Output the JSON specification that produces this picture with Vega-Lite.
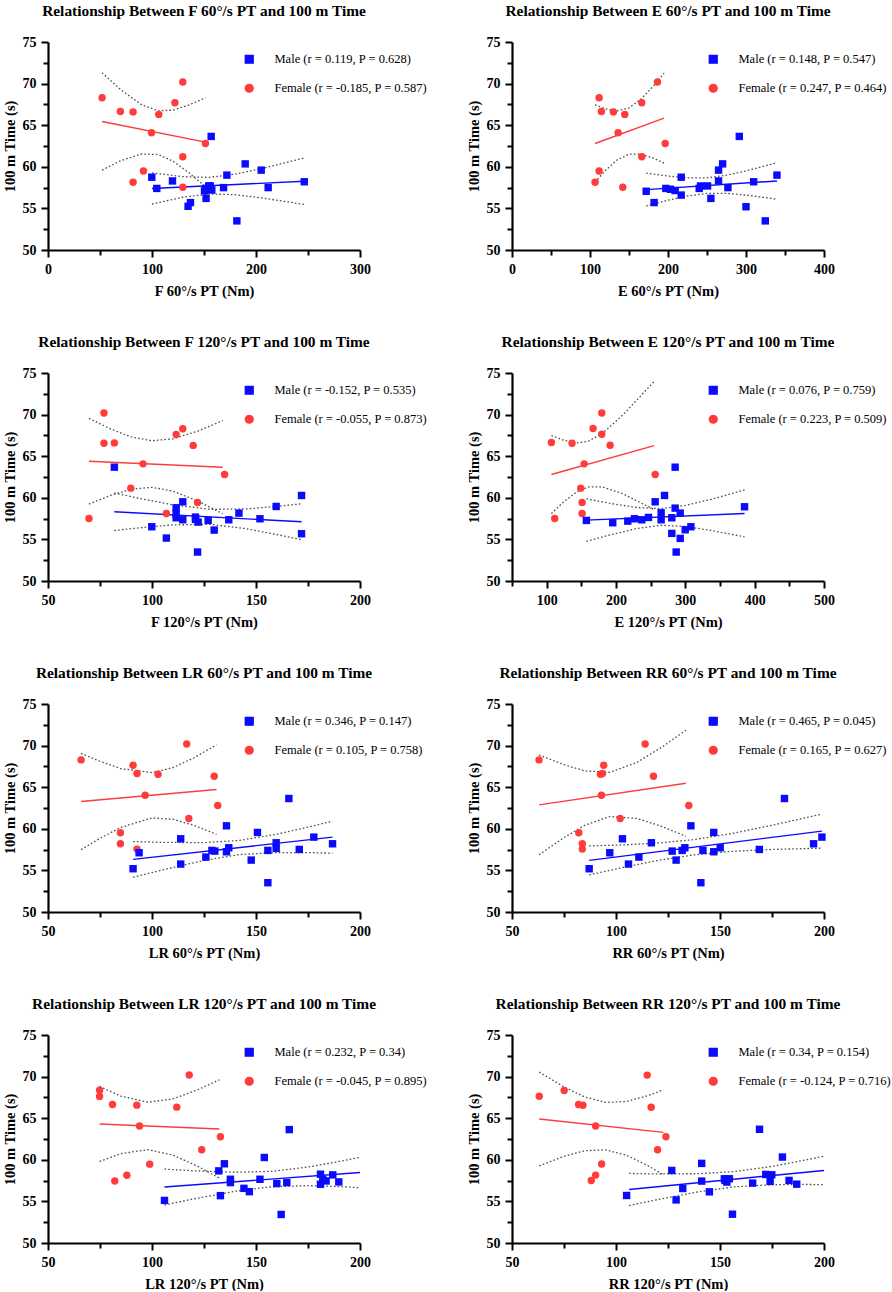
{
  "$schema": "https://vega.github.io/schema/vega-lite/v6.json",
  "background": "white",
  "padding": {"left": 2, "top": 3, "right": 0, "bottom": 0},
  "config": {
    "view": {"stroke": null},
    "title": {"font": "Liberation Serif", "fontSize": 15.4, "fontWeight": "bold", "color": "black", "anchor": "middle", "frame": "group", "offset": 16},
    "axis": {"grid": false, "domainColor": "black", "domainWidth": 2.2, "tickColor": "black", "tickWidth": 2, "labelFont": "Liberation Serif", "labelFontSize": 14, "labelFontWeight": "bold", "labelColor": "black", "titleFont": "Liberation Serif", "titleFontSize": 14.5, "titleFontWeight": "bold", "titleColor": "black", "labelOverlap": false, "labelFlush": false},
    "axisX": {"labelPadding": 5, "titlePadding": 8},
    "axisY": {"labelPadding": 5, "titlePadding": 5},
    "legend": {"orient": "none", "legendX": 195, "legendY": 11, "padding": 0, "rowPadding": 14, "symbolSize": 60, "labelOffset": 19, "labelFont": "Liberation Serif", "labelFontSize": 12.5, "labelColor": "black", "labelLimit": 0}
  },
  "data": {"values": [
    {"p":"F60","k":"pt","s":"Female","x":52,"y":68.3},{"p":"F60","k":"pt","s":"Female","x":69.6,"y":66.65},{"p":"F60","k":"pt","s":"Female","x":81.8,"y":66.6},{"p":"F60","k":"pt","s":"Female","x":106.5,"y":66.3},{"p":"F60","k":"pt","s":"Female","x":122,"y":67.7},{"p":"F60","k":"pt","s":"Female","x":129.6,"y":70.2},{"p":"F60","k":"pt","s":"Female","x":99.5,"y":64.1},{"p":"F60","k":"pt","s":"Female","x":151.4,"y":62.8},{"p":"F60","k":"pt","s":"Female","x":129.6,"y":61.2},{"p":"F60","k":"pt","s":"Female","x":91.8,"y":59.5},{"p":"F60","k":"pt","s":"Female","x":81.8,"y":58.15},{"p":"F60","k":"pt","s":"Female","x":129.6,"y":57.55},
    {"p":"F60","k":"pt","s":"Male","x":156.9,"y":63.65},{"p":"F60","k":"pt","s":"Male","x":99.8,"y":58.75},{"p":"F60","k":"pt","s":"Male","x":104.6,"y":57.4},{"p":"F60","k":"pt","s":"Male","x":119.7,"y":58.3},{"p":"F60","k":"pt","s":"Male","x":134.7,"y":55.25},{"p":"F60","k":"pt","s":"Male","x":137,"y":55.7},{"p":"F60","k":"pt","s":"Male","x":150.5,"y":57.1},{"p":"F60","k":"pt","s":"Male","x":151.5,"y":57.4},{"p":"F60","k":"pt","s":"Male","x":152,"y":56.2},{"p":"F60","k":"pt","s":"Male","x":154.5,"y":57.7},{"p":"F60","k":"pt","s":"Male","x":156,"y":57.7},{"p":"F60","k":"pt","s":"Male","x":156.5,"y":57.3},{"p":"F60","k":"pt","s":"Male","x":157.5,"y":57.2},{"p":"F60","k":"pt","s":"Male","x":168.8,"y":57.5},{"p":"F60","k":"pt","s":"Male","x":172,"y":59.0},{"p":"F60","k":"pt","s":"Male","x":189.6,"y":60.35},{"p":"F60","k":"pt","s":"Male","x":205,"y":59.6},{"p":"F60","k":"pt","s":"Male","x":211.7,"y":57.5},{"p":"F60","k":"pt","s":"Male","x":246.4,"y":58.2},{"p":"F60","k":"pt","s":"Male","x":181.6,"y":53.5},
    {"p":"F60","k":"fit","s":"Male","x":100,"y":57.4},{"p":"F60","k":"fit","s":"Male","x":246.4,"y":58.27},{"p":"F60","k":"fit","s":"Female","x":52,"y":65.45},{"p":"F60","k":"fit","s":"Female","x":151.4,"y":62.96},
    {"p":"F60","k":"ci","c":"MU","x":100,"y":59.27},{"p":"F60","k":"ci","c":"MU","x":130,"y":58.81},{"p":"F60","k":"ci","c":"MU","x":155,"y":58.73},{"p":"F60","k":"ci","c":"MU","x":180,"y":59.11},{"p":"F60","k":"ci","c":"MU","x":210,"y":59.92},{"p":"F60","k":"ci","c":"MU","x":246.4,"y":61.07},
    {"p":"F60","k":"ci","c":"ML","x":100,"y":55.53},{"p":"F60","k":"ci","c":"ML","x":130,"y":56.35},{"p":"F60","k":"ci","c":"ML","x":155,"y":56.73},{"p":"F60","k":"ci","c":"ML","x":180,"y":56.65},{"p":"F60","k":"ci","c":"ML","x":210,"y":56.18},{"p":"F60","k":"ci","c":"ML","x":246.4,"y":55.47},
    {"p":"F60","k":"ci","c":"FU","x":52,"y":71.3},{"p":"F60","k":"ci","c":"FU","x":70,"y":69.26},{"p":"F60","k":"ci","c":"FU","x":90,"y":67.46},{"p":"F60","k":"ci","c":"FU","x":106,"y":66.72},{"p":"F60","k":"ci","c":"FU","x":120,"y":66.81},{"p":"F60","k":"ci","c":"FU","x":135,"y":67.4},{"p":"F60","k":"ci","c":"FU","x":151.4,"y":68.3},
    {"p":"F60","k":"ci","c":"FL","x":52,"y":59.6},{"p":"F60","k":"ci","c":"FL","x":70,"y":60.74},{"p":"F60","k":"ci","c":"FL","x":90,"y":61.54},{"p":"F60","k":"ci","c":"FL","x":106,"y":61.48},{"p":"F60","k":"ci","c":"FL","x":120,"y":60.69},{"p":"F60","k":"ci","c":"FL","x":135,"y":59.34},{"p":"F60","k":"ci","c":"FL","x":151.4,"y":57.6},

    {"p":"E60","k":"pt","s":"Female","x":111.7,"y":68.3},{"p":"E60","k":"pt","s":"Female","x":114.6,"y":66.65},{"p":"E60","k":"pt","s":"Female","x":130,"y":66.6},{"p":"E60","k":"pt","s":"Female","x":144.6,"y":66.3},{"p":"E60","k":"pt","s":"Female","x":166.4,"y":67.7},{"p":"E60","k":"pt","s":"Female","x":186.5,"y":70.2},{"p":"E60","k":"pt","s":"Female","x":136,"y":64.1},{"p":"E60","k":"pt","s":"Female","x":196.4,"y":62.8},{"p":"E60","k":"pt","s":"Female","x":166.4,"y":61.2},{"p":"E60","k":"pt","s":"Female","x":111.7,"y":59.5},{"p":"E60","k":"pt","s":"Female","x":106.5,"y":58.15},{"p":"E60","k":"pt","s":"Female","x":142,"y":57.55},
    {"p":"E60","k":"pt","s":"Male","x":172,"y":57.06},{"p":"E60","k":"pt","s":"Male","x":182.2,"y":55.7},{"p":"E60","k":"pt","s":"Male","x":197.2,"y":57.4},{"p":"E60","k":"pt","s":"Male","x":203.2,"y":57.3},{"p":"E60","k":"pt","s":"Male","x":209.2,"y":57.15},{"p":"E60","k":"pt","s":"Male","x":216.9,"y":58.75},{"p":"E60","k":"pt","s":"Male","x":216.9,"y":56.6},{"p":"E60","k":"pt","s":"Male","x":240,"y":57.4},{"p":"E60","k":"pt","s":"Male","x":241.7,"y":57.7},{"p":"E60","k":"pt","s":"Male","x":250.7,"y":57.7},{"p":"E60","k":"pt","s":"Male","x":255,"y":56.2},{"p":"E60","k":"pt","s":"Male","x":264.8,"y":59.6},{"p":"E60","k":"pt","s":"Male","x":264.8,"y":58.3},{"p":"E60","k":"pt","s":"Male","x":270,"y":60.35},{"p":"E60","k":"pt","s":"Male","x":276.8,"y":57.5},{"p":"E60","k":"pt","s":"Male","x":291.4,"y":63.65},{"p":"E60","k":"pt","s":"Male","x":300,"y":55.2},{"p":"E60","k":"pt","s":"Male","x":309.8,"y":58.2},{"p":"E60","k":"pt","s":"Male","x":339.7,"y":59.0},{"p":"E60","k":"pt","s":"Male","x":324.7,"y":53.5},
    {"p":"E60","k":"fit","s":"Male","x":172,"y":57.26},{"p":"E60","k":"fit","s":"Male","x":339.7,"y":58.3},{"p":"E60","k":"fit","s":"Female","x":106.5,"y":62.8},{"p":"E60","k":"fit","s":"Female","x":195,"y":65.85},
    {"p":"E60","k":"ci","c":"MU","x":172,"y":59.23},{"p":"E60","k":"ci","c":"MU","x":200,"y":58.88},{"p":"E60","k":"ci","c":"MU","x":225,"y":58.68},{"p":"E60","k":"ci","c":"MU","x":250,"y":58.68},{"p":"E60","k":"ci","c":"MU","x":275,"y":58.99},{"p":"E60","k":"ci","c":"MU","x":300,"y":59.5},{"p":"E60","k":"ci","c":"MU","x":339.7,"y":60.49},
    {"p":"E60","k":"ci","c":"ML","x":172,"y":55.29},{"p":"E60","k":"ci","c":"ML","x":200,"y":55.98},{"p":"E60","k":"ci","c":"ML","x":225,"y":56.5},{"p":"E60","k":"ci","c":"ML","x":250,"y":56.8},{"p":"E60","k":"ci","c":"ML","x":275,"y":56.81},{"p":"E60","k":"ci","c":"ML","x":300,"y":56.6},{"p":"E60","k":"ci","c":"ML","x":339.7,"y":56.11},
    {"p":"E60","k":"ci","c":"FU","x":106.5,"y":67.45},{"p":"E60","k":"ci","c":"FU","x":120,"y":66.96},{"p":"E60","k":"ci","c":"FU","x":135,"y":66.72},{"p":"E60","k":"ci","c":"FU","x":150,"y":67.08},{"p":"E60","k":"ci","c":"FU","x":165,"y":68.1},{"p":"E60","k":"ci","c":"FU","x":180,"y":69.57},{"p":"E60","k":"ci","c":"FU","x":195,"y":71.25},
    {"p":"E60","k":"ci","c":"FL","x":106.5,"y":58.15},{"p":"E60","k":"ci","c":"FL","x":120,"y":59.58},{"p":"E60","k":"ci","c":"FL","x":135,"y":60.84},{"p":"E60","k":"ci","c":"FL","x":150,"y":61.52},{"p":"E60","k":"ci","c":"FL","x":165,"y":61.52},{"p":"E60","k":"ci","c":"FL","x":180,"y":61.09},{"p":"E60","k":"ci","c":"FL","x":195,"y":60.45},

    {"p":"F120","k":"pt","s":"Female","x":76.9,"y":70.2},{"p":"F120","k":"pt","s":"Female","x":76.9,"y":66.56},{"p":"F120","k":"pt","s":"Female","x":81.9,"y":66.6},{"p":"F120","k":"pt","s":"Female","x":95.7,"y":64.08},{"p":"F120","k":"pt","s":"Female","x":111.6,"y":67.6},{"p":"F120","k":"pt","s":"Female","x":114.8,"y":68.3},{"p":"F120","k":"pt","s":"Female","x":119.8,"y":66.3},{"p":"F120","k":"pt","s":"Female","x":134.9,"y":62.8},{"p":"F120","k":"pt","s":"Female","x":89.8,"y":61.16},{"p":"F120","k":"pt","s":"Female","x":121.9,"y":59.44},{"p":"F120","k":"pt","s":"Female","x":106.9,"y":58.12},{"p":"F120","k":"pt","s":"Female","x":69.7,"y":57.52},
    {"p":"F120","k":"pt","s":"Male","x":81.9,"y":63.68},{"p":"F120","k":"pt","s":"Male","x":99.9,"y":56.52},{"p":"F120","k":"pt","s":"Male","x":106.9,"y":55.16},{"p":"F120","k":"pt","s":"Male","x":111.6,"y":58.8},{"p":"F120","k":"pt","s":"Male","x":111.6,"y":58.12},{"p":"F120","k":"pt","s":"Male","x":111.6,"y":57.6},{"p":"F120","k":"pt","s":"Male","x":114.8,"y":59.52},{"p":"F120","k":"pt","s":"Male","x":114.8,"y":57.36},{"p":"F120","k":"pt","s":"Male","x":120.9,"y":57.68},{"p":"F120","k":"pt","s":"Male","x":120.9,"y":57.4},{"p":"F120","k":"pt","s":"Male","x":122.2,"y":57.08},{"p":"F120","k":"pt","s":"Male","x":121.9,"y":53.48},{"p":"F120","k":"pt","s":"Male","x":127,"y":57.28},{"p":"F120","k":"pt","s":"Male","x":129.9,"y":56.12},{"p":"F120","k":"pt","s":"Male","x":136.9,"y":57.36},{"p":"F120","k":"pt","s":"Male","x":141.8,"y":58.16},{"p":"F120","k":"pt","s":"Male","x":151.9,"y":57.48},{"p":"F120","k":"pt","s":"Male","x":159.7,"y":58.96},{"p":"F120","k":"pt","s":"Male","x":171.9,"y":60.28},{"p":"F120","k":"pt","s":"Male","x":171.9,"y":55.68},
    {"p":"F120","k":"fit","s":"Male","x":81.9,"y":58.32},{"p":"F120","k":"fit","s":"Male","x":171.9,"y":57.12},{"p":"F120","k":"fit","s":"Female","x":69.7,"y":64.4},{"p":"F120","k":"fit","s":"Female","x":134,"y":63.68},
    {"p":"F120","k":"ci","c":"MU","x":81.9,"y":60.57},{"p":"F120","k":"ci","c":"MU","x":95,"y":59.88},{"p":"F120","k":"ci","c":"MU","x":110,"y":59.16},{"p":"F120","k":"ci","c":"MU","x":128,"y":58.61},{"p":"F120","k":"ci","c":"MU","x":145,"y":58.66},{"p":"F120","k":"ci","c":"MU","x":160,"y":58.97},{"p":"F120","k":"ci","c":"MU","x":171.9,"y":59.28},
    {"p":"F120","k":"ci","c":"ML","x":81.9,"y":56.07},{"p":"F120","k":"ci","c":"ML","x":95,"y":56.42},{"p":"F120","k":"ci","c":"ML","x":110,"y":56.74},{"p":"F120","k":"ci","c":"ML","x":128,"y":56.81},{"p":"F120","k":"ci","c":"ML","x":145,"y":56.3},{"p":"F120","k":"ci","c":"ML","x":160,"y":55.59},{"p":"F120","k":"ci","c":"ML","x":171.9,"y":54.96},
    {"p":"F120","k":"ci","c":"FU","x":69.7,"y":69.55},{"p":"F120","k":"ci","c":"FU","x":80,"y":68.28},{"p":"F120","k":"ci","c":"FU","x":90,"y":67.31},{"p":"F120","k":"ci","c":"FU","x":100,"y":66.86},{"p":"F120","k":"ci","c":"FU","x":110,"y":67.09},{"p":"F120","k":"ci","c":"FU","x":122,"y":68.01},{"p":"F120","k":"ci","c":"FU","x":134,"y":69.28},
    {"p":"F120","k":"ci","c":"FL","x":69.7,"y":59.25},{"p":"F120","k":"ci","c":"FL","x":80,"y":60.28},{"p":"F120","k":"ci","c":"FL","x":90,"y":61.03},{"p":"F120","k":"ci","c":"FL","x":100,"y":61.26},{"p":"F120","k":"ci","c":"FL","x":110,"y":60.81},{"p":"F120","k":"ci","c":"FL","x":122,"y":59.61},{"p":"F120","k":"ci","c":"FL","x":134,"y":58.08},

    {"p":"E120","k":"pt","s":"Female","x":106.8,"y":66.64},{"p":"E120","k":"pt","s":"Female","x":136.6,"y":66.56},{"p":"E120","k":"pt","s":"Female","x":166.9,"y":68.32},{"p":"E120","k":"pt","s":"Female","x":179.5,"y":70.2},{"p":"E120","k":"pt","s":"Female","x":179.5,"y":67.64},{"p":"E120","k":"pt","s":"Female","x":191.5,"y":66.32},{"p":"E120","k":"pt","s":"Female","x":154,"y":64.08},{"p":"E120","k":"pt","s":"Female","x":256.5,"y":62.8},{"p":"E120","k":"pt","s":"Female","x":149.1,"y":61.16},{"p":"E120","k":"pt","s":"Female","x":151.1,"y":59.44},{"p":"E120","k":"pt","s":"Female","x":151.1,"y":58.12},{"p":"E120","k":"pt","s":"Female","x":111.6,"y":57.52},
    {"p":"E120","k":"pt","s":"Male","x":157.3,"y":57.28},{"p":"E120","k":"pt","s":"Male","x":195.3,"y":57.0},{"p":"E120","k":"pt","s":"Male","x":217,"y":57.2},{"p":"E120","k":"pt","s":"Male","x":226.6,"y":57.48},{"p":"E120","k":"pt","s":"Male","x":237.2,"y":57.36},{"p":"E120","k":"pt","s":"Male","x":246.8,"y":57.64},{"p":"E120","k":"pt","s":"Male","x":256.5,"y":59.52},{"p":"E120","k":"pt","s":"Male","x":265.1,"y":58.2},{"p":"E120","k":"pt","s":"Male","x":265.1,"y":57.36},{"p":"E120","k":"pt","s":"Male","x":270,"y":60.28},{"p":"E120","k":"pt","s":"Male","x":280.5,"y":57.6},{"p":"E120","k":"pt","s":"Male","x":280.5,"y":55.72},{"p":"E120","k":"pt","s":"Male","x":285.3,"y":63.68},{"p":"E120","k":"pt","s":"Male","x":285.3,"y":58.76},{"p":"E120","k":"pt","s":"Male","x":286.8,"y":53.48},{"p":"E120","k":"pt","s":"Male","x":292.6,"y":58.16},{"p":"E120","k":"pt","s":"Male","x":292.6,"y":55.12},{"p":"E120","k":"pt","s":"Male","x":299.8,"y":56.16},{"p":"E120","k":"pt","s":"Male","x":308,"y":56.52},{"p":"E120","k":"pt","s":"Male","x":385.4,"y":58.92},
    {"p":"E120","k":"fit","s":"Male","x":157.3,"y":57.32},{"p":"E120","k":"fit","s":"Male","x":385.4,"y":58.12},{"p":"E120","k":"fit","s":"Female","x":106.8,"y":62.8},{"p":"E120","k":"fit","s":"Female","x":255,"y":66.28},
    {"p":"E120","k":"ci","c":"MU","x":157.3,"y":59.88},{"p":"E120","k":"ci","c":"MU","x":190,"y":59.35},{"p":"E120","k":"ci","c":"MU","x":230,"y":58.83},{"p":"E120","k":"ci","c":"MU","x":265,"y":58.7},{"p":"E120","k":"ci","c":"MU","x":300,"y":59.08},{"p":"E120","k":"ci","c":"MU","x":340,"y":59.88},{"p":"E120","k":"ci","c":"MU","x":385.4,"y":60.94},
    {"p":"E120","k":"ci","c":"ML","x":157.3,"y":54.76},{"p":"E120","k":"ci","c":"ML","x":190,"y":55.51},{"p":"E120","k":"ci","c":"ML","x":230,"y":56.31},{"p":"E120","k":"ci","c":"ML","x":265,"y":56.7},{"p":"E120","k":"ci","c":"ML","x":300,"y":56.56},{"p":"E120","k":"ci","c":"ML","x":340,"y":56.04},{"p":"E120","k":"ci","c":"ML","x":385.4,"y":55.3},
    {"p":"E120","k":"ci","c":"FU","x":106.8,"y":67.49},{"p":"E120","k":"ci","c":"FU","x":125,"y":66.91},{"p":"E120","k":"ci","c":"FU","x":145,"y":66.61},{"p":"E120","k":"ci","c":"FU","x":160,"y":66.8},{"p":"E120","k":"ci","c":"FU","x":180,"y":67.72},{"p":"E120","k":"ci","c":"FU","x":210,"y":69.96},{"p":"E120","k":"ci","c":"FU","x":255,"y":73.98},
    {"p":"E120","k":"ci","c":"FL","x":106.8,"y":58.11},{"p":"E120","k":"ci","c":"FL","x":125,"y":59.55},{"p":"E120","k":"ci","c":"FL","x":145,"y":60.79},{"p":"E120","k":"ci","c":"FL","x":160,"y":61.3},{"p":"E120","k":"ci","c":"FL","x":180,"y":61.32},{"p":"E120","k":"ci","c":"FL","x":210,"y":60.48},{"p":"E120","k":"ci","c":"FL","x":255,"y":58.58},

    {"p":"LR60","k":"pt","s":"Female","x":65.9,"y":68.28},{"p":"LR60","k":"pt","s":"Female","x":90.9,"y":67.64},{"p":"LR60","k":"pt","s":"Female","x":92.8,"y":66.64},{"p":"LR60","k":"pt","s":"Female","x":102.9,"y":66.56},{"p":"LR60","k":"pt","s":"Female","x":116.7,"y":70.2},{"p":"LR60","k":"pt","s":"Female","x":129.9,"y":66.32},{"p":"LR60","k":"pt","s":"Female","x":96.7,"y":64.04},{"p":"LR60","k":"pt","s":"Female","x":131.6,"y":62.8},{"p":"LR60","k":"pt","s":"Female","x":117.7,"y":61.24},{"p":"LR60","k":"pt","s":"Female","x":84.8,"y":59.52},{"p":"LR60","k":"pt","s":"Female","x":84.8,"y":58.2},{"p":"LR60","k":"pt","s":"Female","x":92.8,"y":57.56},
    {"p":"LR60","k":"pt","s":"Male","x":90.9,"y":55.2},{"p":"LR60","k":"pt","s":"Male","x":93.8,"y":57.12},{"p":"LR60","k":"pt","s":"Male","x":113.8,"y":58.8},{"p":"LR60","k":"pt","s":"Male","x":113.8,"y":55.76},{"p":"LR60","k":"pt","s":"Male","x":125.9,"y":56.6},{"p":"LR60","k":"pt","s":"Male","x":128.8,"y":57.4},{"p":"LR60","k":"pt","s":"Male","x":130.2,"y":57.32},{"p":"LR60","k":"pt","s":"Male","x":135.8,"y":60.36},{"p":"LR60","k":"pt","s":"Male","x":135.8,"y":57.24},{"p":"LR60","k":"pt","s":"Male","x":136.9,"y":57.72},{"p":"LR60","k":"pt","s":"Male","x":147.7,"y":56.24},{"p":"LR60","k":"pt","s":"Male","x":150.7,"y":59.56},{"p":"LR60","k":"pt","s":"Male","x":155.7,"y":57.4},{"p":"LR60","k":"pt","s":"Male","x":155.7,"y":53.52},{"p":"LR60","k":"pt","s":"Male","x":159.7,"y":58.32},{"p":"LR60","k":"pt","s":"Male","x":159.7,"y":57.64},{"p":"LR60","k":"pt","s":"Male","x":165.8,"y":63.64},{"p":"LR60","k":"pt","s":"Male","x":170.8,"y":57.52},{"p":"LR60","k":"pt","s":"Male","x":177.8,"y":59.0},{"p":"LR60","k":"pt","s":"Male","x":186.8,"y":58.2},
    {"p":"LR60","k":"fit","s":"Male","x":90.9,"y":56.32},{"p":"LR60","k":"fit","s":"Male","x":186.8,"y":59.0},{"p":"LR60","k":"fit","s":"Female","x":65.9,"y":63.28},{"p":"LR60","k":"fit","s":"Female","x":131,"y":64.72},
    {"p":"LR60","k":"ci","c":"MU","x":90.9,"y":58.47},{"p":"LR60","k":"ci","c":"MU","x":105,"y":58.37},{"p":"LR60","k":"ci","c":"MU","x":125,"y":58.34},{"p":"LR60","k":"ci","c":"MU","x":142,"y":58.6},{"p":"LR60","k":"ci","c":"MU","x":160,"y":59.35},{"p":"LR60","k":"ci","c":"MU","x":175,"y":60.2},{"p":"LR60","k":"ci","c":"MU","x":186.8,"y":60.93},
    {"p":"LR60","k":"ci","c":"ML","x":90.9,"y":54.17},{"p":"LR60","k":"ci","c":"ML","x":105,"y":55.05},{"p":"LR60","k":"ci","c":"ML","x":125,"y":56.2},{"p":"LR60","k":"ci","c":"ML","x":142,"y":56.9},{"p":"LR60","k":"ci","c":"ML","x":160,"y":57.15},{"p":"LR60","k":"ci","c":"ML","x":175,"y":57.14},{"p":"LR60","k":"ci","c":"ML","x":186.8,"y":57.07},
    {"p":"LR60","k":"ci","c":"FU","x":65.9,"y":69.06},{"p":"LR60","k":"ci","c":"FU","x":75,"y":68.11},{"p":"LR60","k":"ci","c":"FU","x":85,"y":67.23},{"p":"LR60","k":"ci","c":"FU","x":100,"y":66.75},{"p":"LR60","k":"ci","c":"FU","x":110,"y":67.35},{"p":"LR60","k":"ci","c":"FU","x":120,"y":68.51},{"p":"LR60","k":"ci","c":"FU","x":131,"y":70.1},
    {"p":"LR60","k":"ci","c":"FL","x":65.9,"y":57.5},{"p":"LR60","k":"ci","c":"FL","x":75,"y":58.85},{"p":"LR60","k":"ci","c":"FL","x":85,"y":60.17},{"p":"LR60","k":"ci","c":"FL","x":100,"y":61.31},{"p":"LR60","k":"ci","c":"FL","x":110,"y":61.15},{"p":"LR60","k":"ci","c":"FL","x":120,"y":60.43},{"p":"LR60","k":"ci","c":"FL","x":131,"y":59.34},

    {"p":"RR60","k":"pt","s":"Female","x":63,"y":68.28},{"p":"RR60","k":"pt","s":"Female","x":92.5,"y":66.56},{"p":"RR60","k":"pt","s":"Female","x":93.5,"y":66.64},{"p":"RR60","k":"pt","s":"Female","x":94.1,"y":67.64},{"p":"RR60","k":"pt","s":"Female","x":114,"y":70.2},{"p":"RR60","k":"pt","s":"Female","x":118,"y":66.32},{"p":"RR60","k":"pt","s":"Female","x":93,"y":64.04},{"p":"RR60","k":"pt","s":"Female","x":135,"y":62.8},{"p":"RR60","k":"pt","s":"Female","x":102,"y":61.24},{"p":"RR60","k":"pt","s":"Female","x":82.1,"y":59.52},{"p":"RR60","k":"pt","s":"Female","x":83.8,"y":58.2},{"p":"RR60","k":"pt","s":"Female","x":83.8,"y":57.56},
    {"p":"RR60","k":"pt","s":"Male","x":87.1,"y":55.2},{"p":"RR60","k":"pt","s":"Male","x":97,"y":57.12},{"p":"RR60","k":"pt","s":"Male","x":103.1,"y":58.8},{"p":"RR60","k":"pt","s":"Male","x":106,"y":55.76},{"p":"RR60","k":"pt","s":"Male","x":111,"y":56.6},{"p":"RR60","k":"pt","s":"Male","x":117,"y":58.32},{"p":"RR60","k":"pt","s":"Male","x":127,"y":57.32},{"p":"RR60","k":"pt","s":"Male","x":128.9,"y":56.24},{"p":"RR60","k":"pt","s":"Male","x":131.8,"y":57.4},{"p":"RR60","k":"pt","s":"Male","x":133.1,"y":57.72},{"p":"RR60","k":"pt","s":"Male","x":136,"y":60.36},{"p":"RR60","k":"pt","s":"Male","x":141.8,"y":57.4},{"p":"RR60","k":"pt","s":"Male","x":140.8,"y":53.52},{"p":"RR60","k":"pt","s":"Male","x":147,"y":59.56},{"p":"RR60","k":"pt","s":"Male","x":147,"y":57.24},{"p":"RR60","k":"pt","s":"Male","x":150.1,"y":57.72},{"p":"RR60","k":"pt","s":"Male","x":168.9,"y":57.52},{"p":"RR60","k":"pt","s":"Male","x":181,"y":63.64},{"p":"RR60","k":"pt","s":"Male","x":195,"y":58.2},{"p":"RR60","k":"pt","s":"Male","x":199,"y":59.0},
    {"p":"RR60","k":"fit","s":"Male","x":87.1,"y":56.2},{"p":"RR60","k":"fit","s":"Male","x":199,"y":59.72},{"p":"RR60","k":"fit","s":"Female","x":63,"y":62.88},{"p":"RR60","k":"fit","s":"Female","x":133.6,"y":65.48},
    {"p":"RR60","k":"ci","c":"MU","x":87.1,"y":57.94},{"p":"RR60","k":"ci","c":"MU","x":105,"y":58.08},{"p":"RR60","k":"ci","c":"MU","x":120,"y":58.29},{"p":"RR60","k":"ci","c":"MU","x":137,"y":58.69},{"p":"RR60","k":"ci","c":"MU","x":155,"y":59.4},{"p":"RR60","k":"ci","c":"MU","x":175,"y":60.42},{"p":"RR60","k":"ci","c":"MU","x":199,"y":61.77},
    {"p":"RR60","k":"ci","c":"ML","x":87.1,"y":54.46},{"p":"RR60","k":"ci","c":"ML","x":105,"y":55.44},{"p":"RR60","k":"ci","c":"ML","x":120,"y":56.19},{"p":"RR60","k":"ci","c":"ML","x":137,"y":56.85},{"p":"RR60","k":"ci","c":"ML","x":155,"y":57.28},{"p":"RR60","k":"ci","c":"ML","x":175,"y":57.52},{"p":"RR60","k":"ci","c":"ML","x":199,"y":57.67},
    {"p":"RR60","k":"ci","c":"FU","x":63,"y":68.88},{"p":"RR60","k":"ci","c":"FU","x":75,"y":67.7},{"p":"RR60","k":"ci","c":"FU","x":85,"y":66.96},{"p":"RR60","k":"ci","c":"FU","x":97,"y":66.79},{"p":"RR60","k":"ci","c":"FU","x":110,"y":67.97},{"p":"RR60","k":"ci","c":"FU","x":122,"y":69.81},{"p":"RR60","k":"ci","c":"FU","x":133.6,"y":71.85},
    {"p":"RR60","k":"ci","c":"FL","x":63,"y":56.88},{"p":"RR60","k":"ci","c":"FL","x":75,"y":58.94},{"p":"RR60","k":"ci","c":"FL","x":85,"y":60.42},{"p":"RR60","k":"ci","c":"FL","x":97,"y":61.47},{"p":"RR60","k":"ci","c":"FL","x":110,"y":61.25},{"p":"RR60","k":"ci","c":"FL","x":122,"y":60.29},{"p":"RR60","k":"ci","c":"FL","x":133.6,"y":59.11},

    {"p":"LR120","k":"pt","s":"Female","x":74.8,"y":68.35},{"p":"LR120","k":"pt","s":"Female","x":74.8,"y":67.62},{"p":"LR120","k":"pt","s":"Female","x":81,"y":66.65},{"p":"LR120","k":"pt","s":"Female","x":92.7,"y":66.57},{"p":"LR120","k":"pt","s":"Female","x":111.9,"y":66.33},{"p":"LR120","k":"pt","s":"Female","x":117.9,"y":70.2},{"p":"LR120","k":"pt","s":"Female","x":94,"y":64.07},{"p":"LR120","k":"pt","s":"Female","x":132.9,"y":62.78},{"p":"LR120","k":"pt","s":"Female","x":123.9,"y":61.21},{"p":"LR120","k":"pt","s":"Female","x":98.9,"y":59.48},{"p":"LR120","k":"pt","s":"Female","x":87.9,"y":58.15},{"p":"LR120","k":"pt","s":"Female","x":82.1,"y":57.46},
    {"p":"LR120","k":"pt","s":"Male","x":106,"y":55.12},{"p":"LR120","k":"pt","s":"Male","x":132.1,"y":58.67},{"p":"LR120","k":"pt","s":"Male","x":132.9,"y":55.69},{"p":"LR120","k":"pt","s":"Male","x":134.8,"y":59.52},{"p":"LR120","k":"pt","s":"Male","x":137.7,"y":57.66},{"p":"LR120","k":"pt","s":"Male","x":137.7,"y":57.26},{"p":"LR120","k":"pt","s":"Male","x":144.2,"y":56.57},{"p":"LR120","k":"pt","s":"Male","x":146.8,"y":56.17},{"p":"LR120","k":"pt","s":"Male","x":151.9,"y":57.66},{"p":"LR120","k":"pt","s":"Male","x":154,"y":60.28},{"p":"LR120","k":"pt","s":"Male","x":160,"y":57.14},{"p":"LR120","k":"pt","s":"Male","x":162.1,"y":53.43},{"p":"LR120","k":"pt","s":"Male","x":164.8,"y":57.26},{"p":"LR120","k":"pt","s":"Male","x":166,"y":63.63},{"p":"LR120","k":"pt","s":"Male","x":181,"y":58.27},{"p":"LR120","k":"pt","s":"Male","x":181,"y":57.06},{"p":"LR120","k":"pt","s":"Male","x":182.1,"y":57.66},{"p":"LR120","k":"pt","s":"Male","x":183.7,"y":57.46},{"p":"LR120","k":"pt","s":"Male","x":186.9,"y":58.19},{"p":"LR120","k":"pt","s":"Male","x":189.8,"y":57.34},
    {"p":"LR120","k":"fit","s":"Male","x":106,"y":56.73},{"p":"LR120","k":"fit","s":"Male","x":200,"y":58.47},{"p":"LR120","k":"fit","s":"Female","x":74.8,"y":64.31},{"p":"LR120","k":"fit","s":"Female","x":132.4,"y":63.71},
    {"p":"LR120","k":"ci","c":"MU","x":106,"y":58.88},{"p":"LR120","k":"ci","c":"MU","x":120,"y":58.68},{"p":"LR120","k":"ci","c":"MU","x":140,"y":58.5},{"p":"LR120","k":"ci","c":"MU","x":158,"y":58.62},{"p":"LR120","k":"ci","c":"MU","x":175,"y":59.13},{"p":"LR120","k":"ci","c":"MU","x":190,"y":59.8},{"p":"LR120","k":"ci","c":"MU","x":200,"y":60.29},
    {"p":"LR120","k":"ci","c":"ML","x":106,"y":54.58},{"p":"LR120","k":"ci","c":"ML","x":120,"y":55.3},{"p":"LR120","k":"ci","c":"ML","x":140,"y":56.22},{"p":"LR120","k":"ci","c":"ML","x":158,"y":56.78},{"p":"LR120","k":"ci","c":"ML","x":175,"y":56.89},{"p":"LR120","k":"ci","c":"ML","x":190,"y":56.78},{"p":"LR120","k":"ci","c":"ML","x":200,"y":56.65},
    {"p":"LR120","k":"ci","c":"FU","x":74.8,"y":68.82},{"p":"LR120","k":"ci","c":"FU","x":85,"y":67.66},{"p":"LR120","k":"ci","c":"FU","x":98,"y":66.92},{"p":"LR120","k":"ci","c":"FU","x":110,"y":67.31},{"p":"LR120","k":"ci","c":"FU","x":122,"y":68.42},{"p":"LR120","k":"ci","c":"FU","x":132.4,"y":69.62},
    {"p":"LR120","k":"ci","c":"FL","x":74.8,"y":59.8},{"p":"LR120","k":"ci","c":"FL","x":85,"y":60.74},{"p":"LR120","k":"ci","c":"FL","x":98,"y":61.22},{"p":"LR120","k":"ci","c":"FL","x":110,"y":60.57},{"p":"LR120","k":"ci","c":"FL","x":122,"y":59.22},{"p":"LR120","k":"ci","c":"FL","x":132.4,"y":57.8},

    {"p":"RR120","k":"pt","s":"Female","x":63.1,"y":67.64},{"p":"RR120","k":"pt","s":"Female","x":75.1,"y":68.33},{"p":"RR120","k":"pt","s":"Female","x":82,"y":66.64},{"p":"RR120","k":"pt","s":"Female","x":84.1,"y":66.56},{"p":"RR120","k":"pt","s":"Female","x":90.2,"y":64.07},{"p":"RR120","k":"pt","s":"Female","x":115,"y":70.18},{"p":"RR120","k":"pt","s":"Female","x":116.9,"y":66.32},{"p":"RR120","k":"pt","s":"Female","x":124,"y":62.78},{"p":"RR120","k":"pt","s":"Female","x":120,"y":61.21},{"p":"RR120","k":"pt","s":"Female","x":93.1,"y":59.49},{"p":"RR120","k":"pt","s":"Female","x":90.2,"y":58.16},{"p":"RR120","k":"pt","s":"Female","x":88.1,"y":57.52},
    {"p":"RR120","k":"pt","s":"Male","x":105.1,"y":55.71},{"p":"RR120","k":"pt","s":"Male","x":126.8,"y":58.72},{"p":"RR120","k":"pt","s":"Male","x":128.9,"y":55.18},{"p":"RR120","k":"pt","s":"Male","x":132.1,"y":56.55},{"p":"RR120","k":"pt","s":"Male","x":141.2,"y":59.57},{"p":"RR120","k":"pt","s":"Male","x":141.2,"y":57.44},{"p":"RR120","k":"pt","s":"Male","x":144.9,"y":56.15},{"p":"RR120","k":"pt","s":"Male","x":152.1,"y":57.72},{"p":"RR120","k":"pt","s":"Male","x":152.4,"y":57.52},{"p":"RR120","k":"pt","s":"Male","x":153.3,"y":57.32},{"p":"RR120","k":"pt","s":"Male","x":154.5,"y":57.72},{"p":"RR120","k":"pt","s":"Male","x":156,"y":53.46},{"p":"RR120","k":"pt","s":"Male","x":165.7,"y":57.2},{"p":"RR120","k":"pt","s":"Male","x":169,"y":63.67},{"p":"RR120","k":"pt","s":"Male","x":172,"y":58.24},{"p":"RR120","k":"pt","s":"Male","x":174.1,"y":57.4},{"p":"RR120","k":"pt","s":"Male","x":174.9,"y":58.2},{"p":"RR120","k":"pt","s":"Male","x":180,"y":60.33},{"p":"RR120","k":"pt","s":"Male","x":183.2,"y":57.52},{"p":"RR120","k":"pt","s":"Male","x":186.9,"y":57.07},
    {"p":"RR120","k":"fit","s":"Male","x":106.3,"y":56.43},{"p":"RR120","k":"fit","s":"Male","x":200,"y":58.72},{"p":"RR120","k":"fit","s":"Female","x":63.1,"y":64.91},{"p":"RR120","k":"fit","s":"Female","x":122.8,"y":63.3},
    {"p":"RR120","k":"ci","c":"MU","x":106.3,"y":58.36},{"p":"RR120","k":"ci","c":"MU","x":120,"y":58.3},{"p":"RR120","k":"ci","c":"MU","x":140,"y":58.33},{"p":"RR120","k":"ci","c":"MU","x":157,"y":58.59},{"p":"RR120","k":"ci","c":"MU","x":175,"y":59.21},{"p":"RR120","k":"ci","c":"MU","x":190,"y":59.92},{"p":"RR120","k":"ci","c":"MU","x":200,"y":60.43},
    {"p":"RR120","k":"ci","c":"ML","x":106.3,"y":54.5},{"p":"RR120","k":"ci","c":"ML","x":120,"y":55.22},{"p":"RR120","k":"ci","c":"ML","x":140,"y":56.17},{"p":"RR120","k":"ci","c":"ML","x":157,"y":56.75},{"p":"RR120","k":"ci","c":"ML","x":175,"y":57.01},{"p":"RR120","k":"ci","c":"ML","x":190,"y":57.04},{"p":"RR120","k":"ci","c":"ML","x":200,"y":57.01},
    {"p":"RR120","k":"ci","c":"FU","x":63.1,"y":70.55},{"p":"RR120","k":"ci","c":"FU","x":75,"y":68.76},{"p":"RR120","k":"ci","c":"FU","x":85,"y":67.55},{"p":"RR120","k":"ci","c":"FU","x":95,"y":66.9},{"p":"RR120","k":"ci","c":"FU","x":105,"y":67.01},{"p":"RR120","k":"ci","c":"FU","x":115,"y":67.68},{"p":"RR120","k":"ci","c":"FU","x":122.8,"y":68.41},
    {"p":"RR120","k":"ci","c":"FL","x":63.1,"y":59.27},{"p":"RR120","k":"ci","c":"FL","x":75,"y":60.42},{"p":"RR120","k":"ci","c":"FL","x":85,"y":61.09},{"p":"RR120","k":"ci","c":"FL","x":95,"y":61.2},{"p":"RR120","k":"ci","c":"FL","x":105,"y":60.55},{"p":"RR120","k":"ci","c":"FL","x":115,"y":59.34},{"p":"RR120","k":"ci","c":"FL","x":122.8,"y":58.19}
  ]},
  "columns": 2,
  "bounds": "flush",
  "spacing": {"row": 123, "column": 152},
  "resolve": {"scale": {"color": "independent", "shape": "independent"}, "legend": {"color": "independent", "shape": "independent"}},
  "concat": [
    {"width": 312, "height": 208, "title": "Relationship Between F 60°/s PT and 100 m Time",
     "transform": [{"filter": "datum.p == 'F60'"}],
     "encoding": {
       "x": {"field": "x", "type": "quantitative", "scale": {"domain": [0, 300], "nice": false, "zero": false}, "axis": {"title": "F 60°/s PT (Nm)", "values": [0, 50, 100, 150, 200, 250, 300], "labelExpr": "datum.value % 100 == 0 ? datum.label : ''", "tickSize": {"condition": {"test": "datum.value % 100 == 0", "value": 7}, "value": 5}}},
       "y": {"field": "y", "type": "quantitative", "scale": {"domain": [50, 75], "nice": false, "zero": false}, "axis": {"title": "100 m Time (s)", "values": [50, 52.5, 55, 57.5, 60, 62.5, 65, 67.5, 70, 72.5, 75], "labelExpr": "datum.value % 5 == 0 ? datum.label : ''", "tickSize": {"condition": {"test": "datum.value % 5 == 0", "value": 7}, "value": 5}}}
     },
     "layer": [
       {"transform": [{"filter": "datum.k == 'ci'"}], "mark": {"type": "line", "color": "#4d4d4d", "strokeWidth": 1.3, "strokeDash": [1.6, 2.2]}, "encoding": {"detail": {"field": "c", "type": "nominal"}}},
       {"transform": [{"filter": "datum.k == 'fit'"}], "mark": {"type": "line", "strokeWidth": 1.4}, "encoding": {"color": {"field": "s", "type": "nominal", "scale": {"domain": ["Male", "Female"], "range": ["#0a0aff", "#ff3b3b"]}}}},
       {"transform": [{"filter": "datum.k == 'pt'"}], "mark": {"type": "point", "filled": true, "opacity": 1, "size": 55},
        "encoding": {
          "shape": {"field": "s", "type": "nominal", "scale": {"domain": ["Male", "Female"], "range": ["square", "circle"]}},
          "color": {"field": "s", "type": "nominal", "scale": {"domain": ["Male", "Female"], "range": ["#0a0aff", "#ff3b3b"]},
            "legend": {"title": null, "labelExpr": "datum.value == 'Male' ? 'Male (r = 0.119, P = 0.628)' : 'Female  (r = -0.185, P = 0.587)'"}}
        }}
     ]},
    {"width": 312, "height": 208, "title": "Relationship Between E 60°/s PT and 100 m Time",
     "transform": [{"filter": "datum.p == 'E60'"}],
     "encoding": {
       "x": {"field": "x", "type": "quantitative", "scale": {"domain": [0, 400], "nice": false, "zero": false}, "axis": {"title": "E 60°/s PT (Nm)", "values": [0, 50, 100, 150, 200, 250, 300, 350, 400], "labelExpr": "datum.value % 100 == 0 ? datum.label : ''", "tickSize": {"condition": {"test": "datum.value % 100 == 0", "value": 7}, "value": 5}}},
       "y": {"field": "y", "type": "quantitative", "scale": {"domain": [50, 75], "nice": false, "zero": false}, "axis": {"title": "100 m Time (s)", "values": [50, 52.5, 55, 57.5, 60, 62.5, 65, 67.5, 70, 72.5, 75], "labelExpr": "datum.value % 5 == 0 ? datum.label : ''", "tickSize": {"condition": {"test": "datum.value % 5 == 0", "value": 7}, "value": 5}}}
     },
     "layer": [
       {"transform": [{"filter": "datum.k == 'ci'"}], "mark": {"type": "line", "color": "#4d4d4d", "strokeWidth": 1.3, "strokeDash": [1.6, 2.2]}, "encoding": {"detail": {"field": "c", "type": "nominal"}}},
       {"transform": [{"filter": "datum.k == 'fit'"}], "mark": {"type": "line", "strokeWidth": 1.4}, "encoding": {"color": {"field": "s", "type": "nominal", "scale": {"domain": ["Male", "Female"], "range": ["#0a0aff", "#ff3b3b"]}}}},
       {"transform": [{"filter": "datum.k == 'pt'"}], "mark": {"type": "point", "filled": true, "opacity": 1, "size": 55},
        "encoding": {
          "shape": {"field": "s", "type": "nominal", "scale": {"domain": ["Male", "Female"], "range": ["square", "circle"]}},
          "color": {"field": "s", "type": "nominal", "scale": {"domain": ["Male", "Female"], "range": ["#0a0aff", "#ff3b3b"]},
            "legend": {"title": null, "labelExpr": "datum.value == 'Male' ? 'Male (r = 0.148, P = 0.547)' : 'Female  (r = 0.247, P = 0.464)'"}}
        }}
     ]},
    {"width": 312, "height": 208, "title": "Relationship Between F 120°/s PT and 100 m Time",
     "transform": [{"filter": "datum.p == 'F120'"}],
     "encoding": {
       "x": {"field": "x", "type": "quantitative", "scale": {"domain": [50, 200], "nice": false, "zero": false}, "axis": {"title": "F 120°/s PT (Nm)", "values": [50, 75, 100, 125, 150, 175, 200], "labelExpr": "datum.value % 50 == 0 ? datum.label : ''", "tickSize": {"condition": {"test": "datum.value % 50 == 0", "value": 7}, "value": 5}}},
       "y": {"field": "y", "type": "quantitative", "scale": {"domain": [50, 75], "nice": false, "zero": false}, "axis": {"title": "100 m Time (s)", "values": [50, 52.5, 55, 57.5, 60, 62.5, 65, 67.5, 70, 72.5, 75], "labelExpr": "datum.value % 5 == 0 ? datum.label : ''", "tickSize": {"condition": {"test": "datum.value % 5 == 0", "value": 7}, "value": 5}}}
     },
     "layer": [
       {"transform": [{"filter": "datum.k == 'ci'"}], "mark": {"type": "line", "color": "#4d4d4d", "strokeWidth": 1.3, "strokeDash": [1.6, 2.2]}, "encoding": {"detail": {"field": "c", "type": "nominal"}}},
       {"transform": [{"filter": "datum.k == 'fit'"}], "mark": {"type": "line", "strokeWidth": 1.4}, "encoding": {"color": {"field": "s", "type": "nominal", "scale": {"domain": ["Male", "Female"], "range": ["#0a0aff", "#ff3b3b"]}}}},
       {"transform": [{"filter": "datum.k == 'pt'"}], "mark": {"type": "point", "filled": true, "opacity": 1, "size": 55},
        "encoding": {
          "shape": {"field": "s", "type": "nominal", "scale": {"domain": ["Male", "Female"], "range": ["square", "circle"]}},
          "color": {"field": "s", "type": "nominal", "scale": {"domain": ["Male", "Female"], "range": ["#0a0aff", "#ff3b3b"]},
            "legend": {"title": null, "labelExpr": "datum.value == 'Male' ? 'Male (r = -0.152, P = 0.535)' : 'Female  (r = -0.055, P = 0.873)'"}}
        }}
     ]},
    {"width": 312, "height": 208, "title": "Relationship Between E 120°/s PT and 100 m Time",
     "transform": [{"filter": "datum.p == 'E120'"}],
     "encoding": {
       "x": {"field": "x", "type": "quantitative", "scale": {"domain": [50, 500], "nice": false, "zero": false}, "axis": {"title": "E 120°/s PT (Nm)", "values": [50, 100, 150, 200, 250, 300, 350, 400, 450, 500], "labelExpr": "datum.value % 100 == 0 ? datum.label : ''", "tickSize": {"condition": {"test": "datum.value % 100 == 0", "value": 7}, "value": 5}}},
       "y": {"field": "y", "type": "quantitative", "scale": {"domain": [50, 75], "nice": false, "zero": false}, "axis": {"title": "100 m Time (s)", "values": [50, 52.5, 55, 57.5, 60, 62.5, 65, 67.5, 70, 72.5, 75], "labelExpr": "datum.value % 5 == 0 ? datum.label : ''", "tickSize": {"condition": {"test": "datum.value % 5 == 0", "value": 7}, "value": 5}}}
     },
     "layer": [
       {"transform": [{"filter": "datum.k == 'ci'"}], "mark": {"type": "line", "color": "#4d4d4d", "strokeWidth": 1.3, "strokeDash": [1.6, 2.2]}, "encoding": {"detail": {"field": "c", "type": "nominal"}}},
       {"transform": [{"filter": "datum.k == 'fit'"}], "mark": {"type": "line", "strokeWidth": 1.4}, "encoding": {"color": {"field": "s", "type": "nominal", "scale": {"domain": ["Male", "Female"], "range": ["#0a0aff", "#ff3b3b"]}}}},
       {"transform": [{"filter": "datum.k == 'pt'"}], "mark": {"type": "point", "filled": true, "opacity": 1, "size": 55},
        "encoding": {
          "shape": {"field": "s", "type": "nominal", "scale": {"domain": ["Male", "Female"], "range": ["square", "circle"]}},
          "color": {"field": "s", "type": "nominal", "scale": {"domain": ["Male", "Female"], "range": ["#0a0aff", "#ff3b3b"]},
            "legend": {"title": null, "labelExpr": "datum.value == 'Male' ? 'Male (r = 0.076, P = 0.759)' : 'Female  (r = 0.223, P = 0.509)'"}}
        }}
     ]},
    {"width": 312, "height": 208, "title": "Relationship Between LR 60°/s PT and 100 m Time",
     "transform": [{"filter": "datum.p == 'LR60'"}],
     "encoding": {
       "x": {"field": "x", "type": "quantitative", "scale": {"domain": [50, 200], "nice": false, "zero": false}, "axis": {"title": "LR 60°/s PT (Nm)", "values": [50, 75, 100, 125, 150, 175, 200], "labelExpr": "datum.value % 50 == 0 ? datum.label : ''", "tickSize": {"condition": {"test": "datum.value % 50 == 0", "value": 7}, "value": 5}}},
       "y": {"field": "y", "type": "quantitative", "scale": {"domain": [50, 75], "nice": false, "zero": false}, "axis": {"title": "100 m Time (s)", "values": [50, 52.5, 55, 57.5, 60, 62.5, 65, 67.5, 70, 72.5, 75], "labelExpr": "datum.value % 5 == 0 ? datum.label : ''", "tickSize": {"condition": {"test": "datum.value % 5 == 0", "value": 7}, "value": 5}}}
     },
     "layer": [
       {"transform": [{"filter": "datum.k == 'ci'"}], "mark": {"type": "line", "color": "#4d4d4d", "strokeWidth": 1.3, "strokeDash": [1.6, 2.2]}, "encoding": {"detail": {"field": "c", "type": "nominal"}}},
       {"transform": [{"filter": "datum.k == 'fit'"}], "mark": {"type": "line", "strokeWidth": 1.4}, "encoding": {"color": {"field": "s", "type": "nominal", "scale": {"domain": ["Male", "Female"], "range": ["#0a0aff", "#ff3b3b"]}}}},
       {"transform": [{"filter": "datum.k == 'pt'"}], "mark": {"type": "point", "filled": true, "opacity": 1, "size": 55},
        "encoding": {
          "shape": {"field": "s", "type": "nominal", "scale": {"domain": ["Male", "Female"], "range": ["square", "circle"]}},
          "color": {"field": "s", "type": "nominal", "scale": {"domain": ["Male", "Female"], "range": ["#0a0aff", "#ff3b3b"]},
            "legend": {"title": null, "labelExpr": "datum.value == 'Male' ? 'Male (r = 0.346, P = 0.147)' : 'Female  (r = 0.105, P = 0.758)'"}}
        }}
     ]},
    {"width": 312, "height": 208, "title": "Relationship Between RR 60°/s PT and 100 m Time",
     "transform": [{"filter": "datum.p == 'RR60'"}],
     "encoding": {
       "x": {"field": "x", "type": "quantitative", "scale": {"domain": [50, 200], "nice": false, "zero": false}, "axis": {"title": "RR 60°/s PT (Nm)", "values": [50, 75, 100, 125, 150, 175, 200], "labelExpr": "datum.value % 50 == 0 ? datum.label : ''", "tickSize": {"condition": {"test": "datum.value % 50 == 0", "value": 7}, "value": 5}}},
       "y": {"field": "y", "type": "quantitative", "scale": {"domain": [50, 75], "nice": false, "zero": false}, "axis": {"title": "100 m Time (s)", "values": [50, 52.5, 55, 57.5, 60, 62.5, 65, 67.5, 70, 72.5, 75], "labelExpr": "datum.value % 5 == 0 ? datum.label : ''", "tickSize": {"condition": {"test": "datum.value % 5 == 0", "value": 7}, "value": 5}}}
     },
     "layer": [
       {"transform": [{"filter": "datum.k == 'ci'"}], "mark": {"type": "line", "color": "#4d4d4d", "strokeWidth": 1.3, "strokeDash": [1.6, 2.2]}, "encoding": {"detail": {"field": "c", "type": "nominal"}}},
       {"transform": [{"filter": "datum.k == 'fit'"}], "mark": {"type": "line", "strokeWidth": 1.4}, "encoding": {"color": {"field": "s", "type": "nominal", "scale": {"domain": ["Male", "Female"], "range": ["#0a0aff", "#ff3b3b"]}}}},
       {"transform": [{"filter": "datum.k == 'pt'"}], "mark": {"type": "point", "filled": true, "opacity": 1, "size": 55},
        "encoding": {
          "shape": {"field": "s", "type": "nominal", "scale": {"domain": ["Male", "Female"], "range": ["square", "circle"]}},
          "color": {"field": "s", "type": "nominal", "scale": {"domain": ["Male", "Female"], "range": ["#0a0aff", "#ff3b3b"]},
            "legend": {"title": null, "labelExpr": "datum.value == 'Male' ? 'Male (r = 0.465, P = 0.045)' : 'Female  (r = 0.165, P = 0.627)'"}}
        }}
     ]},
    {"width": 312, "height": 208, "title": "Relationship Between LR 120°/s PT and 100 m Time",
     "transform": [{"filter": "datum.p == 'LR120'"}],
     "encoding": {
       "x": {"field": "x", "type": "quantitative", "scale": {"domain": [50, 200], "nice": false, "zero": false}, "axis": {"title": "LR 120°/s PT (Nm)", "values": [50, 75, 100, 125, 150, 175, 200], "labelExpr": "datum.value % 50 == 0 ? datum.label : ''", "tickSize": {"condition": {"test": "datum.value % 50 == 0", "value": 7}, "value": 5}}},
       "y": {"field": "y", "type": "quantitative", "scale": {"domain": [50, 75], "nice": false, "zero": false}, "axis": {"title": "100 m Time (s)", "values": [50, 52.5, 55, 57.5, 60, 62.5, 65, 67.5, 70, 72.5, 75], "labelExpr": "datum.value % 5 == 0 ? datum.label : ''", "tickSize": {"condition": {"test": "datum.value % 5 == 0", "value": 7}, "value": 5}}}
     },
     "layer": [
       {"transform": [{"filter": "datum.k == 'ci'"}], "mark": {"type": "line", "color": "#4d4d4d", "strokeWidth": 1.3, "strokeDash": [1.6, 2.2]}, "encoding": {"detail": {"field": "c", "type": "nominal"}}},
       {"transform": [{"filter": "datum.k == 'fit'"}], "mark": {"type": "line", "strokeWidth": 1.4}, "encoding": {"color": {"field": "s", "type": "nominal", "scale": {"domain": ["Male", "Female"], "range": ["#0a0aff", "#ff3b3b"]}}}},
       {"transform": [{"filter": "datum.k == 'pt'"}], "mark": {"type": "point", "filled": true, "opacity": 1, "size": 55},
        "encoding": {
          "shape": {"field": "s", "type": "nominal", "scale": {"domain": ["Male", "Female"], "range": ["square", "circle"]}},
          "color": {"field": "s", "type": "nominal", "scale": {"domain": ["Male", "Female"], "range": ["#0a0aff", "#ff3b3b"]},
            "legend": {"title": null, "labelExpr": "datum.value == 'Male' ? 'Male (r = 0.232, P = 0.34)' : 'Female  (r = -0.045, P = 0.895)'"}}
        }}
     ]},
    {"width": 312, "height": 208, "title": "Relationship Between RR 120°/s PT and 100 m Time",
     "transform": [{"filter": "datum.p == 'RR120'"}],
     "encoding": {
       "x": {"field": "x", "type": "quantitative", "scale": {"domain": [50, 200], "nice": false, "zero": false}, "axis": {"title": "RR 120°/s PT (Nm)", "values": [50, 75, 100, 125, 150, 175, 200], "labelExpr": "datum.value % 50 == 0 ? datum.label : ''", "tickSize": {"condition": {"test": "datum.value % 50 == 0", "value": 7}, "value": 5}}},
       "y": {"field": "y", "type": "quantitative", "scale": {"domain": [50, 75], "nice": false, "zero": false}, "axis": {"title": "100 m Time (s)", "values": [50, 52.5, 55, 57.5, 60, 62.5, 65, 67.5, 70, 72.5, 75], "labelExpr": "datum.value % 5 == 0 ? datum.label : ''", "tickSize": {"condition": {"test": "datum.value % 5 == 0", "value": 7}, "value": 5}}}
     },
     "layer": [
       {"transform": [{"filter": "datum.k == 'ci'"}], "mark": {"type": "line", "color": "#4d4d4d", "strokeWidth": 1.3, "strokeDash": [1.6, 2.2]}, "encoding": {"detail": {"field": "c", "type": "nominal"}}},
       {"transform": [{"filter": "datum.k == 'fit'"}], "mark": {"type": "line", "strokeWidth": 1.4}, "encoding": {"color": {"field": "s", "type": "nominal", "scale": {"domain": ["Male", "Female"], "range": ["#0a0aff", "#ff3b3b"]}}}},
       {"transform": [{"filter": "datum.k == 'pt'"}], "mark": {"type": "point", "filled": true, "opacity": 1, "size": 55},
        "encoding": {
          "shape": {"field": "s", "type": "nominal", "scale": {"domain": ["Male", "Female"], "range": ["square", "circle"]}},
          "color": {"field": "s", "type": "nominal", "scale": {"domain": ["Male", "Female"], "range": ["#0a0aff", "#ff3b3b"]},
            "legend": {"title": null, "labelExpr": "datum.value == 'Male' ? 'Male (r = 0.34, P = 0.154)' : 'Female  (r = -0.124, P = 0.716)'"}}
        }}
     ]}
  ]
}
